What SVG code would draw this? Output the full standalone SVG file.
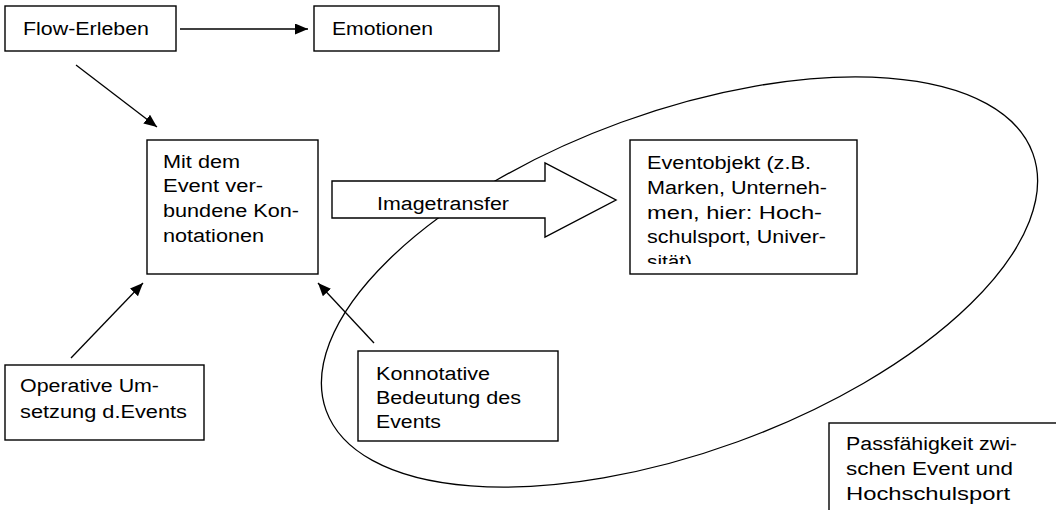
<svg xmlns="http://www.w3.org/2000/svg" width="1056" height="510" viewBox="0 0 1056 510">
  <style>
    .box { fill: #fff; stroke: #000; stroke-width: 1.4; }
    .t { font-family: "Liberation Sans", Arial, sans-serif; font-size: 18px; fill: #000; }
    .ln { stroke: #000; stroke-width: 1.3; fill: none; }
  </style>
  <defs>
    <marker id="ah" markerUnits="userSpaceOnUse" markerWidth="14" markerHeight="12" refX="13" refY="5.5" orient="auto">
      <path d="M0,0 L13,5.5 L0,11 z" fill="#000"/>
    </marker>
    <clipPath id="clipEvent">
      <rect x="630" y="140" width="227" height="124"/>
    </clipPath>
  </defs>
  <rect width="1056" height="510" fill="#fff"/>

  <g id="fit-ellipse">
    <ellipse cx="679.5" cy="282" rx="376" ry="170" transform="rotate(-20 679.5 282)" class="ln" stroke-width="1.4"/>
  </g>

  <g id="connectors">
    <line x1="180" y1="29" x2="308" y2="29" class="ln" marker-end="url(#ah)"/>
    <line x1="76" y1="65" x2="157" y2="127" class="ln" marker-end="url(#ah)"/>
    <line x1="71" y1="358" x2="143" y2="283" class="ln" marker-end="url(#ah)"/>
    <line x1="374" y1="343" x2="318" y2="283" class="ln" marker-end="url(#ah)"/>
  </g>

  <g id="imagetransfer">
    <polygon points="332,181 545,181 545,163 616,200 545,237 545,218 332,218" class="box"/>
    <text class="t" x="377" y="210" textLength="132" lengthAdjust="spacingAndGlyphs">Imagetransfer</text>
  </g>

  <g id="flow-erleben">
    <rect x="5" y="6" width="171" height="45" class="box"/>
    <text class="t" x="23" y="35" textLength="126" lengthAdjust="spacingAndGlyphs">Flow-Erleben</text>
  </g>

  <g id="emotionen">
    <rect x="314" y="6" width="185" height="45" class="box"/>
    <text class="t" x="332" y="35" textLength="101" lengthAdjust="spacingAndGlyphs">Emotionen</text>
  </g>

  <g id="konnotationen">
    <rect x="147" y="140" width="171" height="134" class="box"/>
    <text class="t" x="163" y="168" textLength="77" lengthAdjust="spacingAndGlyphs">Mit dem</text>
    <text class="t" x="163" y="192" textLength="100" lengthAdjust="spacingAndGlyphs">Event ver-</text>
    <text class="t" x="163" y="217" textLength="136" lengthAdjust="spacingAndGlyphs">bundene Kon-</text>
    <text class="t" x="163" y="242" textLength="101" lengthAdjust="spacingAndGlyphs">notationen</text>
  </g>

  <g id="eventobjekt">
    <rect x="630" y="140" width="227" height="134" class="box"/>
    <g clip-path="url(#clipEvent)">
      <text class="t" x="647" y="169" textLength="164" lengthAdjust="spacingAndGlyphs">Eventobjekt (z.B.</text>
      <text class="t" x="647" y="194" textLength="180" lengthAdjust="spacingAndGlyphs">Marken, Unterneh-</text>
      <text class="t" x="647" y="219" textLength="175" lengthAdjust="spacingAndGlyphs">men, hier: Hoch-</text>
      <text class="t" x="647" y="243" textLength="179" lengthAdjust="spacingAndGlyphs">schulsport, Univer-</text>
      <text class="t" x="647" y="268" textLength="45" lengthAdjust="spacingAndGlyphs">sität)</text>
    </g>
  </g>

  <g id="operative-umsetzung">
    <rect x="5" y="365" width="199" height="75" class="box"/>
    <text class="t" x="20" y="392" textLength="139" lengthAdjust="spacingAndGlyphs">Operative Um-</text>
    <text class="t" x="20" y="418" textLength="167" lengthAdjust="spacingAndGlyphs">setzung d.Events</text>
  </g>

  <g id="konnotative-bedeutung">
    <rect x="358" y="351" width="200" height="90" class="box"/>
    <text class="t" x="376" y="380" textLength="114" lengthAdjust="spacingAndGlyphs">Konnotative</text>
    <text class="t" x="376" y="404" textLength="145" lengthAdjust="spacingAndGlyphs">Bedeutung des</text>
    <text class="t" x="376" y="428" textLength="65" lengthAdjust="spacingAndGlyphs">Events</text>
  </g>

  <g id="passfaehigkeit">
    <rect x="829" y="423" width="240" height="100" class="box"/>
    <text class="t" x="846" y="450" textLength="171" lengthAdjust="spacingAndGlyphs">Passfähigkeit zwi-</text>
    <text class="t" x="846" y="475" textLength="167" lengthAdjust="spacingAndGlyphs">schen Event und</text>
    <text class="t" x="846" y="500" textLength="164" lengthAdjust="spacingAndGlyphs">Hochschulsport</text>
  </g>
</svg>
